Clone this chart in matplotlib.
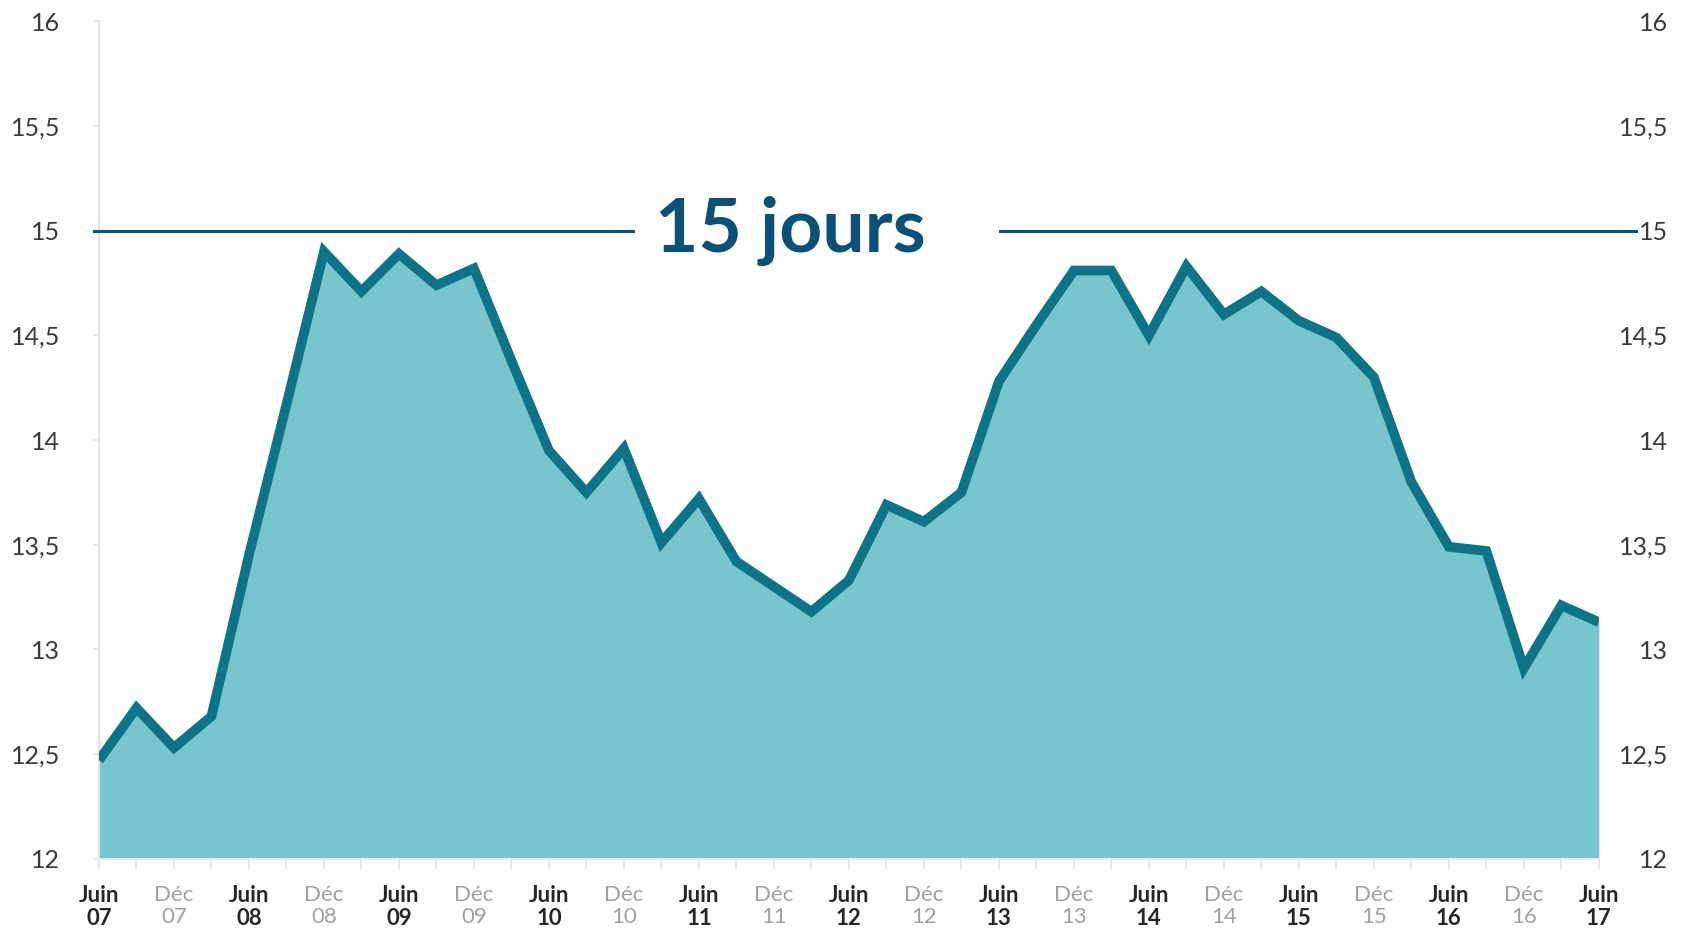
import matplotlib
matplotlib.use("Agg")
import matplotlib.pyplot as plt
import matplotlib.transforms as mtransforms
import numpy as np

plt.rcParams['font.family'] = ['Lato', 'DejaVu Sans']

# Quarterly values, Juin 07 -> Juin 17
values = [12.47, 12.72, 12.53, 12.68, 13.45, 14.17, 14.90, 14.71, 14.89, 14.74,
          14.82, 14.38, 13.95, 13.75, 13.96, 13.51, 13.72, 13.42, 13.30, 13.18,
          13.33, 13.69, 13.61, 13.75, 14.28, 14.55, 14.81, 14.81, 14.50, 14.83,
          14.60, 14.71, 14.57, 14.49, 14.30, 13.80, 13.49, 13.47, 12.91, 13.21,
          13.13]
years = ['07', '08', '09', '10', '11', '12', '13', '14', '15', '16', '17']
y_ticks = [12, 12.5, 13, 13.5, 14, 14.5, 15, 15.5, 16]
y_labels = ['12', '12,5', '13', '13,5', '14', '14,5', '15', '15,5', '16']
ref_value = 15
ref_label = '15 jours'

fill_color = '#76c5cf'
line_color = '#0e7386'
ref_color = '#0b5077'

fig = plt.figure(figsize=(16.83, 9.33), dpi=100)
ax = fig.add_axes([0.0588, 0.0797, 0.8912, 0.8973])

x = np.arange(len(values))
ax.fill_between(x, 12, values, color=fill_color, lw=0, zorder=1)
ax.plot(x, values, color=line_color, lw=7, solid_joinstyle='miter', solid_capstyle='butt', zorder=3)

ax.set_xlim(0, len(values) - 1)
ax.set_ylim(12, 16)

# x tick labels
ax.set_xticks(x)
labels = []
for i in x:
    if i % 4 == 0:
        labels.append('Juin\n' + years[i // 4])
    elif i % 4 == 2:
        labels.append('Déc\n' + years[i // 4])
    else:
        labels.append('')
ax.set_xticklabels(labels, fontsize=16, linespacing=1.1)
for i, t in enumerate(ax.get_xticklabels()):
    if i % 4 == 0:
        t.set_color('#262626')
        t.set_fontweight('bold')
    else:
        t.set_color('#a0a0a0')
ax.tick_params(axis='x', length=7, width=1.2, color='#e3e3e3', pad=12)

ax.set_yticks(y_ticks)
ax.set_yticklabels(y_labels, fontsize=18, color='#3a3a3a')
ax.tick_params(axis='y', length=4, width=1.2, color='#e3e3e3', pad=24)

for s in ['top', 'right']:
    ax.spines[s].set_visible(False)
ax.spines['left'].set_color('#e3e3e3')
ax.spines['left'].set_linewidth(1.5)
ax.spines['bottom'].set_color('#e8e8e8')
ax.spines['bottom'].set_linewidth(1.5)

# right-hand labels
ax2 = ax.twinx()
ax2.set_ylim(12, 16)
ax2.set_yticks(y_ticks)
ax2.set_yticklabels(y_labels, fontsize=18, color='#3a3a3a')
for t in ax2.get_yticklabels():
    t.set_horizontalalignment('right')
ax2.tick_params(axis='y', length=0, pad=50)
for s in ax2.spines.values():
    s.set_visible(False)

# reference line at 15
trans = mtransforms.blended_transform_factory(ax.transAxes, ax.transData)
ax.plot([-0.003, 0.356], [ref_value, ref_value], transform=trans, color=ref_color, lw=2.2, clip_on=False, zorder=4)
ax.plot([0.601, 1.025], [ref_value, ref_value], transform=trans, color=ref_color, lw=2.2, clip_on=False, zorder=4)
ax.text(0.461, ref_value + 0.0, ref_label, transform=trans, ha='center', va='center',
        fontsize=54, fontweight='bold', color=ref_color, zorder=5)

fig.savefig('out.png', dpi=100)
